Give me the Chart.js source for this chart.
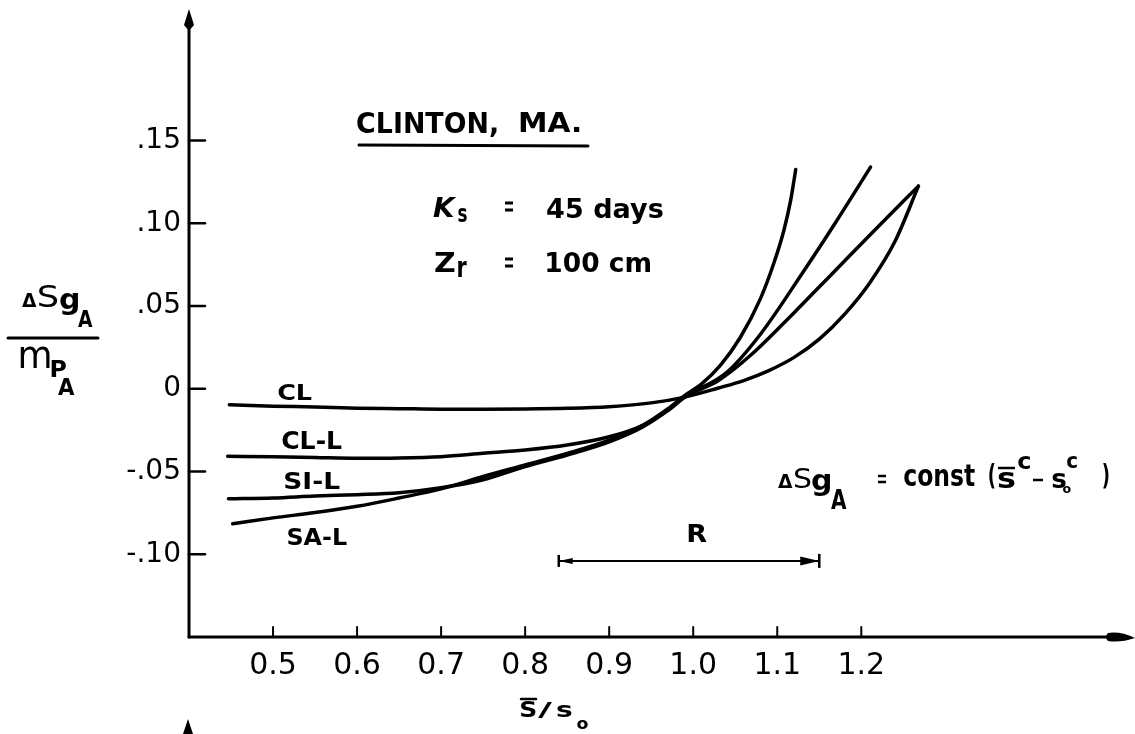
<!DOCTYPE html>
<html>
<head>
<meta charset="utf-8">
<title>Clinton, MA.</title>
<script src="https://cdn.jsdelivr.net/npm/chart.js@4.4.1/dist/chart.umd.min.js"></script>
<style>
html, body { margin: 0; padding: 0; background: #fff; }
#wrap { width: 1135px; height: 734px; position: relative; }
</style>
</head>
<body>
<div id="wrap"><canvas id="deltaChart"></canvas></div>
<script>
// axis ticks
const xTicks = [0.5, 0.6, 0.7, 0.8, 0.9, 1.0, 1.1, 1.2];
const xTickLabels = ['0.5', '0.6', '0.7', '0.8', '0.9', '1.0', '1.1', '1.2'];
const yTicks = [-0.10, -0.05, 0, 0.05, 0.10, 0.15];
const yTickLabels = ['-.10', '-.05', '0', '.05', '.10', '.15'];

// soil types
const soilNames = ['CL', 'CL-L', 'SI-L', 'SA-L'];

// dSgA / mPA against s/s0, one pair of arrays per soil
const clX = [0.448, 0.50, 0.55, 0.60, 0.65, 0.70, 0.75, 0.80, 0.85, 0.90, 0.95, 0.99, 1.03, 1.06, 1.09, 1.12, 1.15, 1.18, 1.21, 1.24, 1.268];
const clY = [-0.0097, -0.0105, -0.011, -0.0117, -0.012, -0.0123, -0.0123, -0.0122, -0.0118, -0.0108, -0.0085, -0.005, 0.0005, 0.005, 0.011, 0.019, 0.030, 0.045, 0.064, 0.089, 0.1225];

const cllX = [0.446, 0.50, 0.55, 0.60, 0.65, 0.70, 0.75, 0.80, 0.85, 0.90, 0.94, 0.97, 0.99, 1.03, 1.07, 1.12, 1.17, 1.22, 1.268];
const cllY = [-0.0408, -0.041, -0.0415, -0.042, -0.0418, -0.041, -0.039, -0.037, -0.034, -0.029, -0.022, -0.013, -0.005, 0.005, 0.021, 0.046, 0.072, 0.098, 0.1225];

const silX = [0.447, 0.50, 0.55, 0.60, 0.65, 0.70, 0.75, 0.80, 0.85, 0.90, 0.94, 0.97, 0.99, 1.04, 1.08, 1.13, 1.17, 1.211];
const silY = [-0.0665, -0.066, -0.0648, -0.064, -0.0628, -0.0598, -0.055, -0.047, -0.040, -0.032, -0.023, -0.013, -0.005, 0.010, 0.033, 0.070, 0.101, 0.134];

const salX = [0.452, 0.50, 0.55, 0.60, 0.65, 0.70, 0.75, 0.80, 0.85, 0.90, 0.94, 0.97, 0.99, 1.01, 1.032, 1.056, 1.08, 1.096, 1.108, 1.116, 1.122];
const salY = [-0.0815, -0.078, -0.0748, -0.071, -0.066, -0.0605, -0.053, -0.046, -0.039, -0.031, -0.022, -0.012, -0.004, 0.003, 0.014, 0.031, 0.0545, 0.076, 0.096, 0.114, 0.1325];

// range R of s/s0
const rangeR = [0.84, 1.15];
const rangeRLevel = -0.104;

const seriesX = [clX, cllX, silX, salX];
const seriesY = [clY, cllY, silY, salY];

const FONT = 'DejaVu Sans';

function line(ctx, x1, y1, x2, y2) {
    ctx.beginPath();
    ctx.moveTo(x1, y1);
    ctx.lineTo(x2, y2);
    ctx.stroke();
}

// draws a string so that its ink fills the box (l,t)-(r,b)
function inkText(ctx, str, l, t, r, b, font) {
    ctx.font = font;
    ctx.textAlign = 'left';
    ctx.textBaseline = 'alphabetic';
    const m = ctx.measureText(str);
    const w = m.actualBoundingBoxLeft + m.actualBoundingBoxRight;
    const h = m.actualBoundingBoxAscent + m.actualBoundingBoxDescent;
    const sx = (r - l) / w;
    const sy = (b - t) / h;
    ctx.save();
    ctx.translate(l + m.actualBoundingBoxLeft * sx, t + m.actualBoundingBoxAscent * sy);
    ctx.scale(sx, sy);
    ctx.fillText(str, 0, 0);
    ctx.restore();
}

const bold = 'bold 30px ' + FONT;
const plain = '30px ' + FONT;

const overlay = {
    id: 'overlay',
    afterDraw(chart) {
        const ctx = chart.ctx;
        const xs = chart.scales.x;
        const ys = chart.scales.y;
        const x0 = chart.chartArea.left;
        const y0 = chart.chartArea.bottom;
        ctx.save();
        ctx.fillStyle = '#000';
        ctx.strokeStyle = '#000';
        ctx.lineCap = 'round';

        // axes with arrow heads
        ctx.lineWidth = 3;
        line(ctx, x0, y0, x0, 24);
        line(ctx, x0, y0, 1112, y0);
        ctx.beginPath();
        ctx.moveTo(x0, 9);
        ctx.lineTo(x0 + 5, 25);
        ctx.lineTo(x0, 31);
        ctx.lineTo(x0 - 5, 25);
        ctx.closePath();
        ctx.fill();
        ctx.beginPath();
        ctx.moveTo(1135, y0 + 1);
        ctx.quadraticCurveTo(1120, y0 - 6, 1108, y0 - 4);
        ctx.quadraticCurveTo(1104, y0, 1108, y0 + 4);
        ctx.quadraticCurveTo(1120, y0 + 6, 1135, y0 + 1);
        ctx.fill();

        // inward tick marks
        ctx.lineWidth = 2.5;
        yTicks.forEach(v => {
            const y = ys.getPixelForValue(v);
            line(ctx, x0, y, x0 + 16, y);
        });
        ctx.lineWidth = 2;
        xTicks.forEach(v => {
            const x = xs.getPixelForValue(v);
            line(ctx, x, y0, x, y0 - 10);
        });

        // y axis title
        inkText(ctx, '\u0394', 22, 293, 37, 307, bold);
        inkText(ctx, 'S', 38, 285, 58, 307, plain);
        inkText(ctx, 'g', 60, 293, 78, 315, bold);
        inkText(ctx, 'A', 78, 310, 93, 327, bold);
        ctx.lineWidth = 3;
        line(ctx, 8, 338, 98, 338);
        inkText(ctx, 'm', 20, 347, 50, 368, plain);
        inkText(ctx, 'P', 51, 360, 66, 377, bold);
        inkText(ctx, 'A', 58, 378, 75, 395, bold);

        // x axis title
        inkText(ctx, 'S', 521, 702, 536, 717, bold);
        ctx.lineWidth = 2.5;
        line(ctx, 521, 699, 536, 699);
        inkText(ctx, '/', 538, 702, 552, 718, bold);
        inkText(ctx, 's', 557, 705, 572, 717, bold);
        inkText(ctx, 'o', 577, 720, 588, 729, bold);

        // site and parameters
        inkText(ctx, 'CLINTON,', 357, 113, 497, 137, bold);
        inkText(ctx, 'MA.', 520, 113, 580, 132, bold);
        ctx.lineWidth = 3;
        line(ctx, 359, 145, 588, 146);
        inkText(ctx, 'K', 433, 198, 457, 217, 'italic bold 30px ' + FONT);
        inkText(ctx, 's', 458, 208, 467, 222, bold);
        ctx.lineWidth = 3;
        ctx.lineCap = 'butt';
        line(ctx, 505, 203, 513, 203);
        line(ctx, 505, 210, 513, 210);
        inkText(ctx, '45 days', 547, 198, 663, 223, bold);
        inkText(ctx, 'Z', 435, 253, 455, 272, bold);
        inkText(ctx, 'r', 458, 261, 467, 277, bold);
        line(ctx, 505, 259, 513, 259);
        line(ctx, 505, 266, 513, 266);
        inkText(ctx, '100 cm', 547, 253, 650, 272, bold);

        // soil labels
        inkText(ctx, 'CL', 278, 385, 312, 400, bold);
        inkText(ctx, 'CL-L', 282, 431, 342, 449, bold);
        inkText(ctx, 'SI-L', 285, 472, 340, 489, bold);
        inkText(ctx, 'SA-L', 288, 528, 347, 545, bold);

        // relation
        inkText(ctx, '\u0394', 778, 474, 793, 488, bold);
        inkText(ctx, 'S', 794, 468, 811, 488, plain);
        inkText(ctx, 'g', 812, 474, 830, 496, bold);
        inkText(ctx, 'A', 831, 490, 847, 509, bold);
        ctx.lineWidth = 2.5;
        line(ctx, 878, 476, 886, 476);
        line(ctx, 878, 482, 886, 482);
        inkText(ctx, 'const', 904, 464, 975, 486, bold);
        inkText(ctx, '(', 989, 464, 995, 490, bold);
        inkText(ctx, 's', 998, 472, 1015, 488, bold);
        line(ctx, 998, 468, 1015, 468);
        inkText(ctx, 'c', 1018, 456, 1030, 469, bold);
        line(ctx, 1033, 480, 1043, 480);
        inkText(ctx, 's', 1052, 473, 1066, 488, bold);
        inkText(ctx, 'o', 1063, 486, 1071, 493, bold);
        inkText(ctx, 'c', 1067, 456, 1077, 468, bold);
        inkText(ctx, ')', 1103, 464, 1109, 490, bold);

        // range R
        const ra = xs.getPixelForValue(rangeR[0]);
        const rb = xs.getPixelForValue(rangeR[1]);
        const ry = ys.getPixelForValue(rangeRLevel);
        ctx.lineWidth = 2;
        line(ctx, ra, ry, rb, ry);
        ctx.lineWidth = 2.5;
        line(ctx, ra, ry - 6, ra, ry + 6);
        line(ctx, rb, ry - 7, rb, ry + 7);
        ctx.beginPath();
        ctx.moveTo(ra, ry);
        ctx.lineTo(ra + 14, ry - 3);
        ctx.lineTo(ra + 14, ry + 3);
        ctx.closePath();
        ctx.fill();
        ctx.beginPath();
        ctx.moveTo(rb, ry);
        ctx.lineTo(rb - 19, ry - 4.5);
        ctx.lineTo(rb - 19, ry + 4.5);
        ctx.closePath();
        ctx.fill();
        inkText(ctx, 'R', 688, 524, 707, 542, bold);

        // edge of the next figure's axis
        ctx.beginPath();
        ctx.moveTo(x0 - 1, 719);
        ctx.lineTo(x0 + 4, 734);
        ctx.lineTo(x0 - 6, 734);
        ctx.closePath();
        ctx.fill();

        ctx.restore();
    }
};

const ctx = document.getElementById('deltaChart').getContext('2d');
const deltaChart = new Chart(ctx, {
    type: 'line',
    data: {
        datasets: soilNames.map((name, i) => ({
            label: name,
            data: seriesX[i].map((x, j) => ({ x: x, y: seriesY[i][j] })),
            borderColor: '#000',
            borderWidth: 3.5,
            borderCapStyle: 'round',
            cubicInterpolationMode: 'monotone',
            pointRadius: 0,
            fill: false
        }))
    },
    options: {
        responsive: true,
        maintainAspectRatio: false,
        animation: false,
        layout: {
            padding: { left: 0, right: 4.8, top: 18.6, bottom: 0 }
        },
        plugins: {
            legend: { display: false },
            tooltip: { enabled: false }
        },
        scales: {
            x: {
                type: 'linear',
                min: 0.4,
                max: 1.52,
                grid: { display: false, drawTicks: false },
                border: { display: false },
                afterBuildTicks: scale => { scale.ticks = xTicks.map(v => ({ value: v })); },
                afterFit: scale => { scale.height = 97; },
                ticks: {
                    autoSkip: false,
                    maxRotation: 0,
                    padding: 11,
                    color: '#000',
                    font: { family: FONT, size: 30 },
                    callback: (value, index) => xTickLabels[index]
                }
            },
            y: {
                type: 'linear',
                min: -0.15,
                max: 0.22,
                grid: { display: false, drawTicks: false },
                border: { display: false },
                afterBuildTicks: scale => { scale.ticks = yTicks.map(v => ({ value: v })); },
                afterFit: scale => { scale.width = 189; },
                ticks: {
                    autoSkip: false,
                    padding: 8,
                    color: '#000',
                    font: { family: FONT, size: 28 },
                    callback: (value, index) => yTickLabels[index]
                }
            }
        }
    },
    plugins: [overlay]
});
</script>
</body>
</html>
